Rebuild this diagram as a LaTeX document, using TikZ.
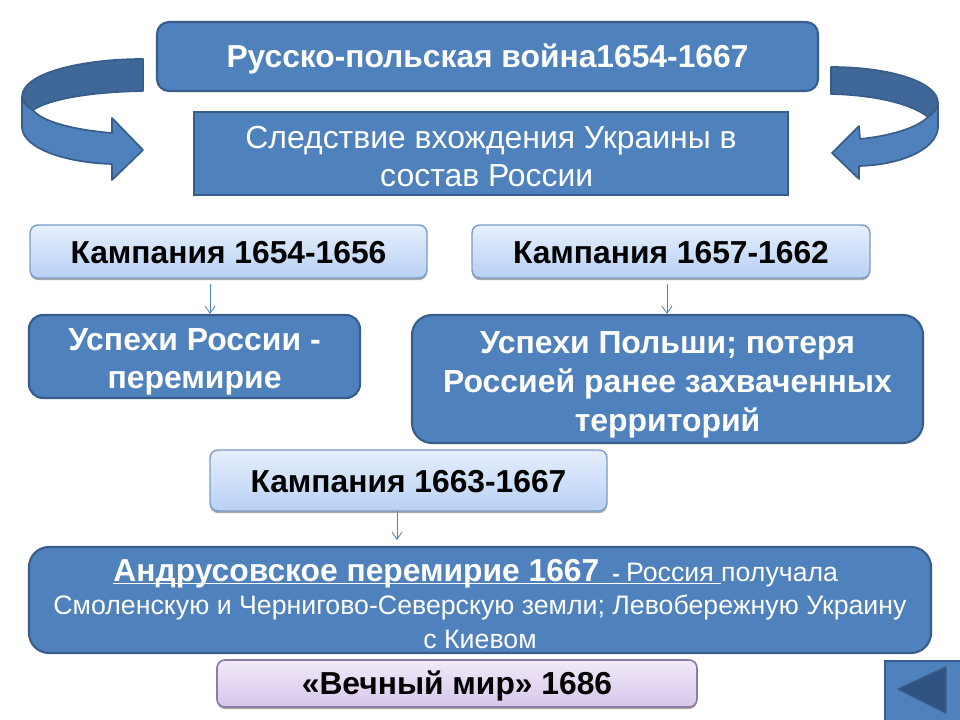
\documentclass[tikz,border=0pt]{standalone}
\usepackage{fontspec}
\setmainfont{Liberation Sans}
\usetikzlibrary{arrows.meta, shadows, positioning}
\definecolor{bluefill}{HTML}{4F81BD}
\definecolor{blueedge}{HTML}{385D8A}
\definecolor{bluedark}{HTML}{3F6797}
\definecolor{bluedeep}{HTML}{2F5483}
\definecolor{lightedge}{HTML}{7C9CC6}
\definecolor{lighttop}{HTML}{E6EFFC}
\definecolor{lightbot}{HTML}{B8D0F4}
\definecolor{lilacedge}{HTML}{8E7BA6}
\definecolor{lilactop}{HTML}{F2EAF9}
\definecolor{lilacbot}{HTML}{D6C6EA}
\newcommand{\dropstrut}[1]{\rule{0pt}{#1}}
\tikzset{
  size/.style 2 args={minimum width=#1*0.025cm, minimum height=#2*0.025cm, inner sep=0pt},
  bluebox/.style={draw=blueedge, line width=1.5pt, fill=bluefill, text=white, align=center},
  softshadow/.style={drop shadow={shadow xshift=0pt, shadow yshift=-1.5pt, opacity=.55, fill=black!60}},
  lightbox/.style={draw=lightedge, line width=1pt, rounded corners=0.2cm, top color=lighttop, bottom color=lightbot, text=black, softshadow, font=\fontsize{22.6}{27}\selectfont\bfseries},
  lilacbox/.style={draw=lilacedge, line width=1.2pt, rounded corners=0.2cm, top color=lilactop, bottom color=lilacbot, text=black, softshadow, font=\fontsize{22.6}{27}\selectfont\bfseries},
  thinarrow/.style={-{Straight Barb[length=5pt,width=7pt]}, draw=bluefill, line width=0.6pt},
  band/.style={draw=blueedge, line width=1.2pt, line join=round},
}
\begin{document}
\begin{tikzpicture}[x=0.025cm, y=-0.025cm]
\useasboundingbox (0,0) rectangle (960,720);

\node[bluebox, size={661}{69}, rounded corners=0.3cm, font=\fontsize{22.6}{27}\selectfont\bfseries] (title) at (487.5,56.5) {\dropstrut{21pt}Русско-польская война1654-1667};
\node[bluebox, size={594}{83}, font=\fontsize{22.7}{27.5}\selectfont] (result) at (491,153.5) {\dropstrut{20pt}Следствие вхождения Украины в\\состав России\hspace*{6pt}};

\node[lightbox, size={397}{53}] (camp1) at (228.5,251.5) {\dropstrut{17.5pt}Кампания 1654-1656};
\node[lightbox, size={398}{53}] (camp2) at (671,251.5) {\dropstrut{17.5pt}Кампания 1657-1662};
\node[lightbox, size={397}{61}] (camp3) at (408.5,480.5) {\dropstrut{17.5pt}Кампания 1663-1667};

\node[bluebox, size={331}{83}, rounded corners=0.35cm, font=\fontsize{22.7}{27.5}\selectfont\bfseries] (win1) at (194.5,356.5) {\dropstrut{23pt}Успехи России -\\перемирие};
\node[bluebox, size={511}{128}, rounded corners=0.5cm, font=\fontsize{22.7}{27.5}\selectfont\bfseries] (win2) at (667.5,379) {\dropstrut{24pt}Успехи Польши; потеря\\Россией ранее захваченных\\территорий};
\node[bluebox, size={902}{106}, rounded corners=0.5cm, font=\fontsize{19}{23.8}\selectfont] (peace) at (480,600) {\dropstrut{21pt}\underline{\smash{{\fontsize{22.6}{23.8}\selectfont\bfseries Андрусовское перемирие 1667 \hspace{3pt}}{\bfseries\fontsize{16}{23.8}\selectfont - }{\fontsize{19}{23.8}\selectfont Россия }}}получала\hspace*{6pt}\\Смоленскую и Чернигово-Северскую земли; Левобережную Украину\\с Киевом};
\node[lilacbox, size={480}{47}] (eternal) at (457,683.5) {\dropstrut{21pt}«Вечный мир» 1686};
\node[bluebox, size={76}{61}, anchor=north west] (back) at (884,659.5) {};

\coordinate (a1) at (210,284);
\coordinate (a2) at (667,284);
\draw[thinarrow] (a1) -- (a1 |- win1.north);
\draw[thinarrow] (a2) -- (a2 |- win2.north);
\coordinate (a3) at (397,511);
\coordinate (a3end) at (397,540);
\draw[thinarrow] (a3) -- (a3end);

\fill[bluedeep, draw=blueedge, line width=1pt, line join=round] (898,689) -- (946,667) -- (946,713) -- cycle;

\draw[band, fill=bluefill] (22,97) -- (22,128) .. controls (24,150) and (70,163) .. (112,164) -- (112,180) -- (143,150) -- (112,118) -- (112,133) .. controls (75,130) and (42,122) .. (33,110) -- cycle;
\draw[band, fill=bluedark] (143,59) -- (143,91) .. controls (90,92) and (50,99) .. (33,110) .. controls (27,107) and (22,102) .. (22,97) .. controls (22,72) and (85,59) .. (143,59) -- cycle;

\draw[band, fill=bluefill] (938,103) -- (938,128) .. controls (936,150) and (900,165) .. (859,166) -- (859,179) -- (832,153) -- (859,126) -- (860,139) .. controls (890,136) and (917,128) .. (928,117) -- cycle;
\draw[band, fill=bluedark] (831,67) -- (831,94) .. controls (875,95) and (912,104) .. (928,117) .. controls (934,113) and (938,108) .. (938,103) .. controls (938,82) and (890,67) .. (831,67) -- cycle;
\end{tikzpicture}
\end{document}
